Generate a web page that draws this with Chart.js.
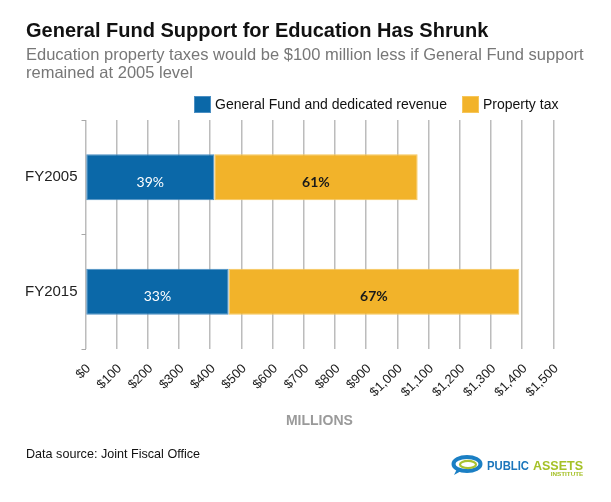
<!DOCTYPE html>
<html>
<head>
<meta charset="utf-8">
<script src="https://cdn.jsdelivr.net/npm/chart.js@4/dist/chart.umd.min.js"></script>
<style>
  html, body { margin: 0; padding: 0; background: #fff; }
  body { width: 611px; height: 502px; position: relative; overflow: hidden;
         font-family: 'Liberation Sans', Arial, sans-serif; }
  #chart { position: absolute; left: 0; top: 0; }
  .txt { position: absolute; white-space: nowrap; }
  #title { left: 26px; top: 20.4px; font-size: 20px; line-height: 20px; font-weight: bold; color: #111; }
  #subtitle { left: 26px; top: 44.6px; font-size: 16.5px; line-height: 18px; color: #777; }
  #legend { position: absolute; left: 194px; top: 96px; display: flex; align-items: center; }
  #legend .item { display: flex; align-items: center; margin-right: 15px; }
  #legend .box { width: 17px; height: 17px; margin-right: 4px; box-sizing: border-box; }
  #legend .lbl { font-size: 14px; line-height: 17px; color: #111; }
  #source { left: 26px; top: 446.9px; font-size: 12.6px; line-height: 14px; color: #111; }
  #logo { position: absolute; left: 450px; top: 454px; }
</style>
</head>
<body>
<canvas id="chart" width="611" height="502"></canvas>
<div class="txt" id="title">General Fund Support for Education Has Shrunk</div>
<div class="txt" id="subtitle">Education property taxes would be $100 million less if General Fund support<br>remained at 2005 level</div>
<div id="legend"></div>
<div class="txt" id="source">Data source: Joint Fiscal Office</div>
<svg id="logo" width="152" height="26" viewBox="0 0 152 26">
  <ellipse cx="17" cy="10" rx="13.5" ry="7" fill="none" stroke="#1b7fc4" stroke-width="4"/>
  <ellipse cx="18" cy="10.5" rx="8" ry="3.6" fill="none" stroke="#a9c230" stroke-width="2.2"/>
  <path d="M7 15 L4 21 L12 16.5 Z" fill="#1b7fc4"/>
  <text x="37" y="16" textLength="42" lengthAdjust="spacingAndGlyphs" font-family="'Liberation Sans', Arial" font-weight="bold" font-size="12.5" fill="#1b75bb">PUBLIC</text>
  <text x="83" y="16" textLength="50" lengthAdjust="spacingAndGlyphs" font-family="'Liberation Sans', Arial" font-weight="bold" font-size="12.5" fill="#a5c127">ASSETS</text>
  <text x="100.7" y="22" textLength="32.6" lengthAdjust="spacingAndGlyphs" font-family="'Liberation Sans', Arial" font-weight="bold" font-size="4.5" fill="#a5c127">INSTITUTE</text>
</svg>

<script>
// values in millions of dollars
var categories = ['FY2005', 'FY2015'];
var generalFund = [413, 459];
var propertyTax = [652, 932];
var seriesNames = ['General Fund and dedicated revenue', 'Property tax'];
var seriesColors = ['#0b68a8', '#f2b32a'];
var seriesBorders = ['#4b8fc3', '#f7c65a'];
var pctColors = ['#ffffff', '#1a1a1a'];
var pctWeights = ['normal', 'bold'];
var xMin = 0, xMax = 1500, xStep = 100;

var font = "'Liberation Sans', Arial, sans-serif";

// html legend, built from the series
var legendEl = document.getElementById('legend');
seriesNames.forEach(function(name, i) {
    var item = document.createElement('div');
    item.className = 'item';
    var box = document.createElement('div');
    box.className = 'box';
    box.style.background = seriesColors[i];
    box.style.border = '1px solid ' + seriesBorders[i];
    var lbl = document.createElement('div');
    lbl.className = 'lbl';
    lbl.textContent = name;
    item.appendChild(box);
    item.appendChild(lbl);
    legendEl.appendChild(item);
});

// percentage of each bar's total, written in the middle of the segment
var pctLabels = {
    id: 'pctLabels',
    afterDatasetsDraw: function(chart) {
        var ctx = chart.ctx;
        var sets = chart.data.datasets;
        ctx.save();
        ctx.textAlign = 'center';
        ctx.textBaseline = 'middle';
        sets.forEach(function(ds, i) {
            var meta = chart.getDatasetMeta(i);
            meta.data.forEach(function(bar, j) {
                var total = 0;
                sets.forEach(function(d) { total += d.data[j]; });
                var pct = Math.round(ds.data[j] / total * 100);
                var p = bar.getProps(['x', 'base', 'y'], true);
                ctx.fillStyle = pctColors[i];
                ctx.font = pctWeights[i] + " 14px Lato, 'Open Sans', sans-serif";
                ctx.fillText(pct + '%', (p.x + p.base) / 2, p.y + 5);
            });
        });
        ctx.restore();
    }
};

var ctx = document.getElementById('chart').getContext('2d');
var chart = new Chart(ctx, {
    type: 'bar',
    data: {
        labels: categories,
        datasets: [{
            label: seriesNames[0],
            data: generalFund,
            backgroundColor: seriesColors[0],
            borderColor: seriesBorders[0],
            borderWidth: 1,
            borderSkipped: false
        }, {
            label: seriesNames[1],
            data: propertyTax,
            backgroundColor: seriesColors[1],
            borderColor: seriesBorders[1],
            borderWidth: 1,
            borderSkipped: false
        }]
    },
    options: {
        indexAxis: 'y',
        responsive: false,
        animation: false,
        devicePixelRatio: 1,
        datasets: {
            bar: { barPercentage: 0.4, categoryPercentage: 1 }
        },
        layout: {
            padding: { top: 120, left: 0, right: 57.7, bottom: 68.6 }
        },
        scales: {
            x: {
                stacked: true,
                min: xMin,
                max: xMax,
                afterFit: function(scale) {
                    scale.height = 84.4;
                    scale.paddingLeft = 0;
                    scale.paddingRight = 0;
                },
                ticks: {
                    stepSize: xStep,
                    minRotation: 45,
                    maxRotation: 45,
                    autoSkip: false,
                    padding: 12,
                    labelOffset: 3,
                    color: '#222',
                    font: { family: font, size: 13 },
                    callback: function(v) { return '$' + v.toLocaleString('en-US'); }
                },
                grid: {
                    color: '#bcbcbc',
                    lineWidth: 1.5,
                    drawTicks: false
                },
                border: { display: false },
                title: {
                    display: true,
                    text: 'MILLIONS',
                    color: '#9a9a9a',
                    padding: 4,
                    font: { family: font, size: 14, weight: 'bold' }
                }
            },
            y: {
                stacked: true,
                afterFit: function(scale) {
                    scale.width = 85.5;
                    scale.paddingTop = 0;
                    scale.paddingBottom = 0;
                },
                ticks: {
                    padding: 4,
                    color: '#222',
                    font: { family: font, size: 15 }
                },
                grid: {
                    drawOnChartArea: false,
                    offset: true,
                    tickLength: 4,
                    color: '#a8a8a8'
                },
                border: { display: false }
            }
        },
        plugins: {
            legend: { display: false },
            tooltip: { enabled: false }
        }
    },
    plugins: [pctLabels]
});
</script>
</body>
</html>
